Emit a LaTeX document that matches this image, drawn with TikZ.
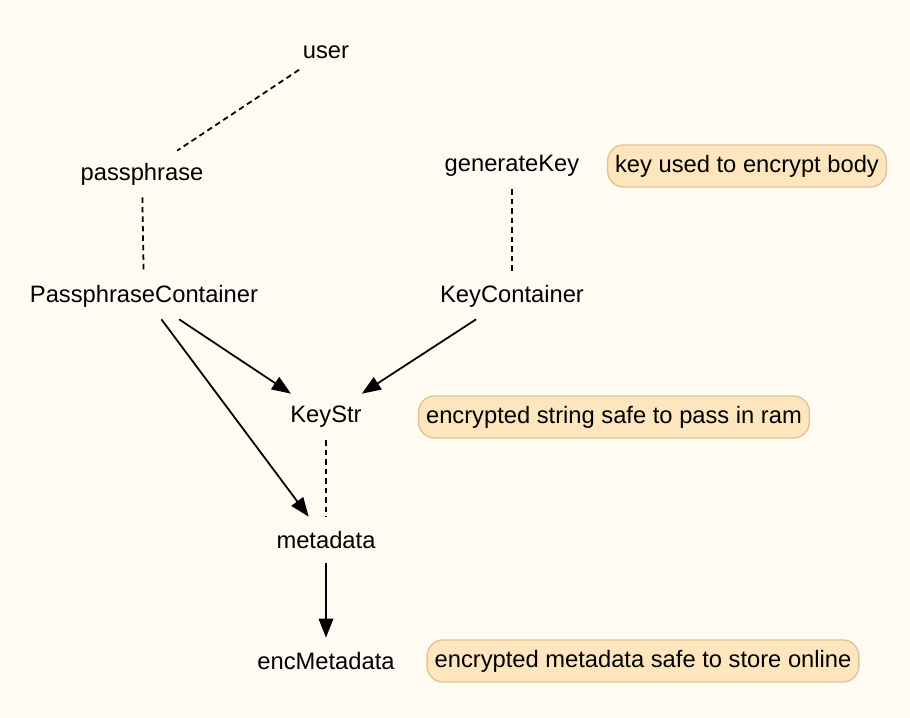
\documentclass[tikz,border=0pt]{standalone}
\usepackage{fontspec}
\setmainfont{Liberation Sans}
\usetikzlibrary{positioning, calc, arrows.meta}
\definecolor{bgcream}{RGB}{255,251,243}
\definecolor{notefill}{RGB}{253,230,190}
\definecolor{noteline}{RGB}{222,198,150}
\begin{document}
\begin{tikzpicture}[
		font=\fontsize{13.5}{16}\selectfont,
		item/.style={minimum height=0.92cm, inner xsep=2pt, inner ysep=0pt},
		note/.style={draw=noteline, fill=notefill, line width=0.8pt, rounded corners=0.32cm, minimum height=0.84cm, inner xsep=0.15cm},
		dep/.style={line width=1pt, dash pattern=on 3.2pt off 2.2pt},
		flow/.style={line width=1pt, -{Triangle[length=3.8mm, width=2.9mm]}}]
			\fill[bgcream] (0,0) rectangle (18.2,14.36);
			\useasboundingbox (0,0) rectangle (18.2,14.36);
			
			\node (user) at (6.52, 13.32) [item] {user};
			\node (pass) at (2.84, 10.88) [item] {passphrase};
			\node (genkey) at (10.24, 11.04) [item] {generateKey};
			\node (passc) at (2.88, 8.44) [item] {PassphraseContainer};
			\node (keyc) at (10.24, 8.44) [item] {KeyContainer};
			\node (keystr) at (6.52, 6.02) [item] {KeyStr};
			\node (meta) at (6.52, 3.56) [item] {metadata};
			\node (encmeta) at (6.52, 1.14) [item] {encMetadata};
			
			\node (note1) at (14.94, 11.04) [note] {key used to encrypt body};
			\node (note2) at (12.28, 6.02) [note] {encrypted string safe to pass in ram};
			\node (note3) at (12.86, 1.14) [note] {encrypted metadata safe to store online};
			
			\draw[dep] (user) -- (pass);
			\draw[dep] (pass) -- (passc);
			\draw[dep] (genkey) -- (keyc);
			\draw[dep] (keystr) -- (meta);
			\draw[flow] (passc) -- (keystr);
			\draw[flow] (keyc) -- (keystr);
			\draw[flow] (passc) -- (meta);
			\draw[flow] (meta) -- (encmeta);
		\end{tikzpicture}
\end{document}
